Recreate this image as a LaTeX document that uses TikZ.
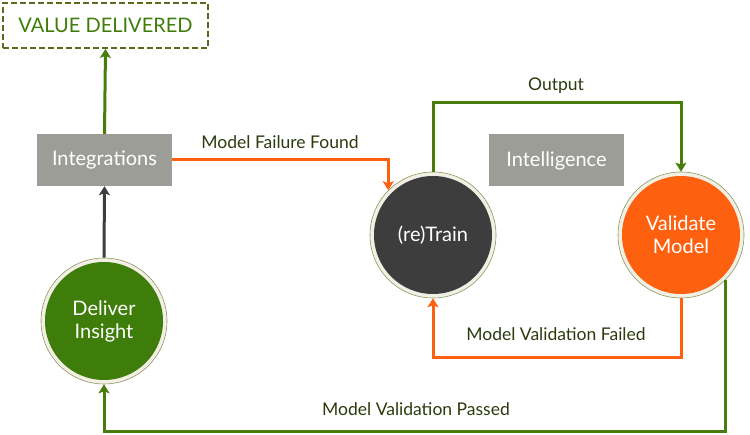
\documentclass[tikz,border=0pt]{standalone}
\usepackage{fontspec}
\setmainfont{Lato}
\usetikzlibrary{arrows.meta}
\definecolor{lgreen}{HTML}{4A7C0C}
\definecolor{cgreen}{HTML}{3F7D0A}
\definecolor{olive}{HTML}{5B6B1E}
\definecolor{dgray}{HTML}{3D3D3D}
\definecolor{bgray}{HTML}{9D9D98}
\definecolor{orng}{HTML}{FD6110}
\definecolor{cream}{HTML}{F2F0E4}
\definecolor{lbl}{HTML}{2D3A0E}
\tikzset{
  graybox/.style={rectangle, fill=bgray, minimum width=135pt, minimum height=52pt, inner sep=0pt,
    text=white, font=\fontsize{20}{23}\selectfont},
  stage/.style={circle, minimum size=126pt, inner sep=0pt, fill=cream, draw=olive!70, line width=0.6pt,
    text=white, align=center, font=\fontsize{20}{23}\selectfont,
    path picture={\fill[#1] (path picture bounding box.center) circle (59pt);}},
  conn/.style={line width=3pt, -{Stealth[length=9pt,width=11pt,inset=2pt]}},
  lab/.style={text=lbl, font=\fontsize{17.5}{20}\selectfont},
}
\begin{document}
\begin{tikzpicture}[x=1pt,y=-1pt]
\useasboundingbox (0,0) rectangle (750,435);
\node[rectangle, draw=olive, dashed, dash pattern=on 6pt off 3pt, line width=1.8pt, minimum width=205pt, minimum height=45pt,
  text=cgreen, font=\fontsize{20}{23}\selectfont] (vd) at (105.5,25.5) {VALUE DELIVERED};
\node[graybox] (int) at (104.5,160) {Integrations};
\node[graybox] (intel) at (556.5,160.5) {Intelligence};
\node[stage=cgreen] (d) at (104,321) {Deliver\\Insight};
\node[stage=dgray] (t) at (433,235) {(re)Train};
\node[stage=orng] (v) at (681,235) {Validate\\Model};

\coordinate (outL) at (433,103);
\coordinate (failB) at (433,358);
\coordinate (passB) at (104,432);

\draw[conn, lgreen] (int.north) -- (vd.south);
\draw[conn, dgray] (d.north) -- (int.south);
\draw[conn, orng] (int.east) -| (t.135);
\draw[conn, lgreen] (t.north) -- (outL) -| (v.north);
\draw[conn, orng] (v.south) |- (failB) -- (t.south);
\draw[conn, lgreen] (v.-45) |- (passB) -- (d.south);

\node[lab] (l1) at (280,142) {Model Failure Found};
\node[lab] (l2) at (556,86) {Output};
\node[lab] (l3) at (556,334) {Model Validation Failed};
\node[lab] (l4) at (416,409) {Model Validation Passed};
\end{tikzpicture}
\end{document}
